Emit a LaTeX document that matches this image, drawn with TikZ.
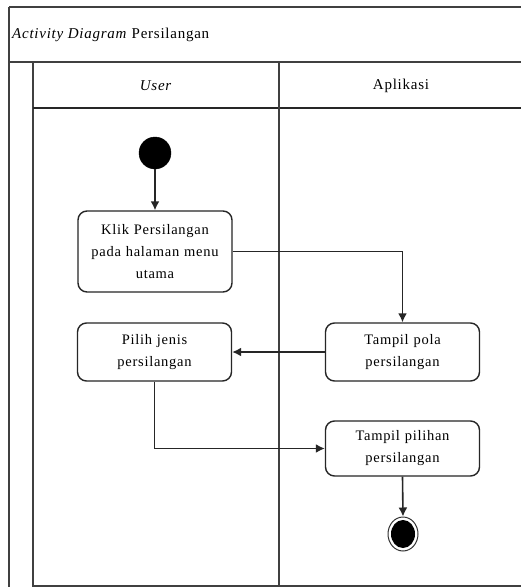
\documentclass[tikz,border=0pt]{standalone}
\usepackage{fontspec}
\setmainfont{Liberation Serif}[LetterSpace=5]
\usetikzlibrary{arrows.meta,shapes.geometric}
\begin{document}
\begin{tikzpicture}[x=1pt,y=-1pt,
  frame/.style={line width=1.8pt, draw=black!75},
  txt/.style={font=\fontsize{15}{23}\selectfont, inner sep=0pt},
  act/.style={draw=black!85, rounded corners=9pt, line width=1.4pt, align=center,
    font=\fontsize{14.5}{22}\selectfont, inner sep=2pt, text width=150pt},
  flow/.style={line width=1.6pt, draw=black!85, -{Latex[length=9pt,width=9pt]}},
  startnode/.style={circle, fill=black, draw=black, minimum size=32pt, inner sep=0pt},
  endnode/.style={ellipse, draw=black!80, line width=1pt, fill=white, minimum width=30pt, minimum height=34pt, inner sep=0pt,
    path picture={\fill[black] (path picture bounding box.center) ellipse[x radius=12pt, y radius=14pt];}},
]
\useasboundingbox (0,0) rectangle (521,587);
\fill[white] (0,0) rectangle (521,587);

% frame
\draw[frame] (9,7) -- (521,7);
\draw[frame] (9,7) -- (9,587);
\draw[frame] (9,62) -- (521,62);
\draw[frame] (33,62) -- (33,587);
\draw[frame, line width=2.2pt, draw=black!85] (33,108) -- (521,108);
\draw[frame] (279,62) -- (279,587);
\draw[frame] (33,586) -- (521,586);

% title and headers
\node[txt, anchor=west] (title) at (12,35) {\textit{Activity Diagram} Persilangan};
\node[txt] (user) at (156,86) {\textit{User}};
\node[txt] (app) at (401,86) {Aplikasi};

% nodes
\node[startnode] (start) at (155,153) {};
\node[act, minimum height=81pt] (klik) at (155,251.5) {Klik Persilangan\\pada halaman menu\\utama};
\node[act, minimum height=58pt] (pilih) at (154.5,352) {Pilih jenis\\persilangan};
\node[act, minimum height=58pt] (pola) at (402.5,352) {Tampil pola\\persilangan};
\node[act, minimum height=55pt] (pilihan) at (402.5,448.5) {Tampil pilihan\\persilangan};
\node[endnode] (end) at (403,534) {};

% connectors
\draw[flow] (start) -- (klik);
\draw[flow] (klik.east) -| (pola.north);
\draw[flow] (pola.west) -- (pilih.east);
\draw[flow] (pilih.south) |- (pilihan.west);
\draw[flow] (pilihan.south) -- (end.north);
\end{tikzpicture}
\end{document}
